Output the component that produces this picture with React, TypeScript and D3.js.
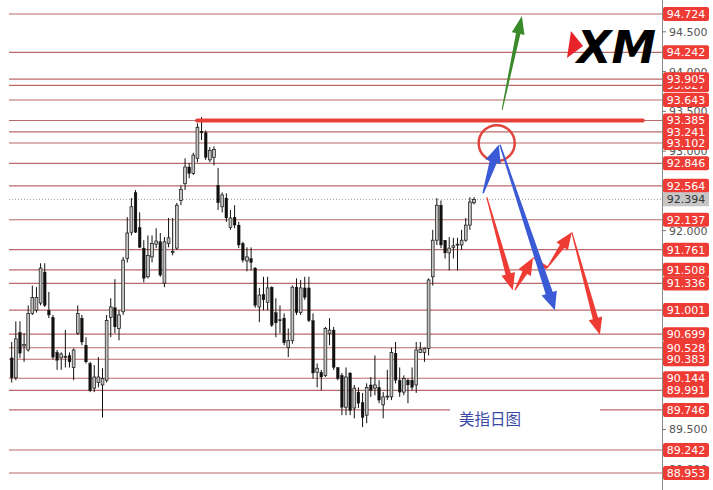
import React from 'react';
import * as d3 from 'd3';

// daily candles (oldest first)
const opens = [90.40,90.15,90.72,90.55,90.50,90.96,91.00,91.09,91.48,91.00,
  90.91,90.47,90.40,90.41,90.43,90.28,90.71,90.90,90.56,90.33,
  90.02,90.09,90.06,90.12,90.91,91.03,90.77,90.98,91.65,91.98,
  92.48,92.04,91.78,91.42,91.67,91.83,91.86,91.34,91.84,91.73,
  91.78,92.38,92.59,92.80,92.72,92.91,93.25,93.23,92.89,92.92,
  92.57,92.30,92.41,92.04,92.17,92.07,91.84,91.62,91.65,91.53,
  91.04,91.20,91.10,91.29,90.97,90.88,90.90,90.53,90.62,91.29,
  90.97,91.28,91.28,90.87,90.22,90.22,90.18,90.71,90.75,90.28,
  90.18,89.78,90.21,89.77,89.97,89.84,89.68,90.06,90.02,90.03,
  89.81,89.91,89.91,90.46,90.12,89.97,90.12,90.12,90.06,90.47,
  90.47,90.52,91.42,91.88,92.32,91.88,91.72,91.79,91.82,91.82,
  91.88,92.07,92.35];
const highs = [90.60,90.86,90.86,90.71,91.06,91.31,91.29,91.59,91.59,91.23,
  90.94,90.50,90.47,90.75,90.47,90.52,91.06,90.94,90.66,90.35,
  90.31,90.41,90.27,90.94,91.15,91.39,91.00,91.67,92.17,92.41,
  92.51,92.23,91.88,91.94,91.94,92.03,91.97,91.92,92.16,92.16,
  92.35,92.57,92.91,92.85,92.98,93.35,93.43,93.26,93.05,93.06,
  92.79,92.48,92.47,92.26,92.32,92.11,91.86,91.79,91.79,91.54,
  91.28,91.42,91.42,91.30,91.15,91.06,90.96,90.77,91.31,91.40,
  91.38,91.42,91.42,90.96,90.33,90.25,90.79,90.90,90.79,90.28,
  90.21,90.28,90.22,90.06,90.03,89.96,90.08,90.16,90.43,90.12,
  89.97,90.25,90.53,90.60,90.28,90.18,90.14,90.28,90.60,90.60,
  90.53,91.40,92.01,92.41,92.38,91.88,91.92,91.91,91.91,92.01,
  92.16,92.42,92.42];
const lows = [90.09,90.12,90.40,90.35,90.48,90.94,90.97,91.06,91.04,90.90,
  90.38,90.25,90.25,90.28,90.28,90.12,90.69,90.56,90.33,89.97,
  89.97,90.03,89.65,90.09,90.66,90.71,90.62,90.94,91.60,91.94,
  91.97,91.78,91.35,91.40,91.60,91.78,91.42,91.29,91.79,91.69,
  91.76,92.32,92.51,92.66,92.70,92.86,93.14,92.89,92.86,92.82,
  92.26,92.23,92.11,92.01,92.03,91.78,91.60,91.49,91.50,91.03,
  90.85,91.00,91.00,90.79,90.66,90.71,90.56,90.41,90.58,90.94,
  90.94,91.13,90.85,90.14,90.03,89.99,90.16,90.56,90.25,90.12,
  89.68,89.68,89.68,89.64,89.77,89.53,89.58,89.91,89.93,89.83,
  89.64,89.87,89.87,90.08,89.91,89.93,89.83,89.99,89.96,90.46,
  90.35,90.43,91.31,91.82,91.78,91.65,91.50,91.65,91.50,91.76,
  91.86,92.01,92.33];
const closes = [90.15,90.64,90.46,90.57,90.96,91.16,91.16,91.53,91.06,90.94,
  90.41,90.37,90.45,90.42,90.35,90.50,90.96,90.60,90.35,89.99,
  90.16,90.16,90.14,90.87,91.04,90.79,90.94,91.63,91.97,92.30,
  91.98,91.79,91.40,91.69,91.84,91.87,91.44,91.86,91.91,91.74,
  92.32,92.52,92.80,92.72,92.95,93.30,93.23,92.92,93.01,93.02,
  92.35,92.45,92.16,92.16,92.07,91.82,91.63,91.67,91.60,91.06,
  91.19,91.13,91.28,90.81,90.84,90.87,90.59,90.62,91.29,90.97,
  91.28,91.16,90.87,90.21,90.27,90.16,90.77,90.75,90.28,90.14,
  89.78,90.16,89.74,90.02,89.83,89.65,90.03,89.99,90.06,89.87,
  89.91,89.92,90.47,90.12,89.97,90.14,90.06,90.03,90.50,90.51,
  90.52,91.38,91.88,92.32,91.82,91.72,91.78,91.81,91.83,91.88,
  92.07,92.36,92.39];

// horizontal levels with red price tags
const levels = [94.724, 94.242, 93.905, 93.643, 93.385, 93.241, 93.102, 92.846,
  92.564, 92.137, 91.761, 91.508, 91.336, 91.001, 90.699, 90.528, 90.383,
  90.144, 89.991, 89.746, 89.242, 88.953];
const hiddenLevels = [93.827];
// only the round ticks that peek out from behind the tags
const axisTicks = [94.5, 94.0, 93.5, 93.0, 92.0, 89.5, 89.0];
const lastPrice = 92.394;
const resistancePrice = 93.385;
const resistanceSpan = [44.9, 152.9]; // bar index
const title = '美指日图';

// annotations in (bar index, price)
const greenArrow: number[][] = [[118.8, 93.52], [123.6, 94.70]];
const blueArrows: number[][][] = [
  [[114.2, 92.47], [118.0, 93.08]],
  [[118.3, 93.08], [131.6, 91.00]],
];
const redArrows: number[][][] = [
  [[115.1, 92.42], [121.4, 91.25]],
  [[121.9, 91.25], [126.3, 91.66]],
  [[129.7, 91.53], [135.7, 91.98]],
  [[135.7, 91.98], [142.5, 90.69]],
];
const redLink: number[][] = [[126.3, 91.66], [129.7, 91.53]];
const circleCenter = [117.5, 93.10];

const W = 713;
const H = 490;
const AXIS_X = 662;

function arrowPoly(p1: number[], p2: number[], w0: number, w1: number, hl: number, hw: number) {
  const [x1, y1] = p1;
  const [x2, y2] = p2;
  const len = Math.hypot(x2 - x1, y2 - y1);
  const ux = (x2 - x1) / len, uy = (y2 - y1) / len;
  const nx = -uy, ny = ux;
  const bx = x2 - ux * hl, by = y2 - uy * hl;
  const pts = [
    [x1 + nx * w0 / 2, y1 + ny * w0 / 2],
    [bx + nx * w1 / 2, by + ny * w1 / 2],
    [bx + nx * hw / 2, by + ny * hw / 2],
    [x2, y2],
    [bx - nx * hw / 2, by - ny * hw / 2],
    [bx - nx * w1 / 2, by - ny * w1 / 2],
    [x1 - nx * w0 / 2, y1 - ny * w0 / 2],
  ];
  return pts.map(p => p.map(v => v.toFixed(1)).join(',')).join(' ');
}

const App: React.FC = () => {
  const n = opens.length;
  const x = d3.scaleLinear().domain([0, n - 1]).range([11.7, 474]);
  const y = d3.scaleLinear().domain([94.724, 88.953]).range([14, 473]);
  const fmt = d3.format('.3f');
  const bw = 2.8;
  const pt = (d: number[]) => [x(d[0]), y(d[1])];
  const labelFont = "'DejaVu Sans', sans-serif";

  const tag = (v: number, key: string) => (
    <g key={key}>
      <rect x={AXIS_X + 1} y={y(v) - 7} width={46} height={14} rx={2} fill="#ee3b34" />
      <text x={AXIS_X + 24} y={y(v) + 4} textAnchor="middle" fontSize={11}
        fontFamily={labelFont} fill="#fff">{fmt(v)}</text>
    </g>
  );

  return (
    <svg width={W} height={H} style={{ position: 'absolute', left: 0, top: 0, background: '#fff' }}>
      {/* level lines */}
      {[...hiddenLevels, ...levels].map((v, i) => (
        <line key={'l' + i} x1={9} x2={AXIS_X} y1={y(v)} y2={y(v)} stroke="#bb6a6a" strokeWidth={1.2} />
      ))}
      <line x1={9} x2={AXIS_X} y1={y(lastPrice)} y2={y(lastPrice)} stroke="#9a9a9a"
        strokeWidth={1} strokeDasharray="1,2" />

      {/* candles */}
      {opens.map((o, i) => {
        const c = closes[i];
        const up = c >= o;
        const top = y(Math.max(o, c));
        const h = Math.max(1, y(Math.min(o, c)) - top);
        return (
          <g key={'c' + i}>
            <line x1={x(i)} x2={x(i)} y1={y(highs[i])} y2={y(lows[i])} stroke="#111" strokeWidth={1} />
            <rect x={x(i) - bw / 2} y={top} width={bw} height={h}
              fill={up ? '#c4c4c4' : '#111'} stroke="#111" strokeWidth={up ? 0.7 : 0.3} />
          </g>
        );
      })}

      {/* resistance */}
      <line x1={x(resistanceSpan[0])} x2={x(resistanceSpan[1])} y1={y(resistancePrice)} y2={y(resistancePrice)}
        stroke="#e5413a" strokeWidth={4} strokeLinecap="round" />
      <circle cx={x(circleCenter[0])} cy={y(circleCenter[1])} r={18} fill="none" stroke="#e0443c" strokeWidth={2.5} />

      {/* arrows */}
      <polygon points={arrowPoly(pt(greenArrow[0]), pt(greenArrow[1]), 1, 4.5, 18, 13)} fill="#3a8a2c" />
      <polygon points={arrowPoly(pt(redLink[0]), pt(redLink[1]), 1, 3.5, 0.01, 3.5)} fill="#ee3b34" />
      {redArrows.map((a, i) => (
        <polygon key={'r' + i} points={arrowPoly(pt(a[0]), pt(a[1]), 1, 5.5, 17, 14)} fill="#ee3b34" />
      ))}
      {blueArrows.map((a, i) => (
        <polygon key={'b' + i} points={arrowPoly(pt(a[0]), pt(a[1]), 1.5, 7.5, 18, 16)} fill="#3b5bd6" />
      ))}

      {/* chart title */}
      <rect x={450} y={y(89.746) - 7} width={150} height={14} fill="#fff" />
      <text x={459} y={y(89.746) + 15} fontSize={15.5}
        fontFamily="'Noto Sans CJK SC', sans-serif" fill="#3a4aa8">{title}</text>

      {/* XM logo */}
      <polygon points="571,31 583,46 567,58" fill="#e8242a" />
      <text x={577} y={63} fontSize={45} fontWeight="bold" fontStyle="italic"
        fontFamily="'DejaVu Sans', sans-serif" fill="#000" textLength={79} lengthAdjust="spacingAndGlyphs">XM</text>

      {/* price axis */}
      <rect x={AXIS_X} y={0} width={W - AXIS_X} height={H} fill="#fff" />
      <line x1={AXIS_X + 0.5} x2={AXIS_X + 0.5} y1={0} y2={H} stroke="#8a8a8a" strokeWidth={1} />
      {axisTicks.map((v, i) => (
        <g key={'t' + i}>
          <line x1={AXIS_X} x2={AXIS_X + 4} y1={y(v)} y2={y(v)} stroke="#777" />
          <text x={AXIS_X + 7} y={y(v) + 4} fontSize={11} fontFamily={labelFont} fill="#555">{fmt(v)}</text>
        </g>
      ))}
      {hiddenLevels.map((v, i) => tag(v, 'h' + i))}
      {[...levels].sort((a, b) => a - b).map((v, i) => tag(v, 'g' + i))}
      <rect x={AXIS_X + 1} y={y(lastPrice) - 7} width={46} height={14} fill="#c6c6c6" />
      <text x={AXIS_X + 24} y={y(lastPrice) + 4} textAnchor="middle" fontSize={11}
        fontFamily={labelFont} fill="#333">{fmt(lastPrice)}</text>
    </svg>
  );
};

export default App;
